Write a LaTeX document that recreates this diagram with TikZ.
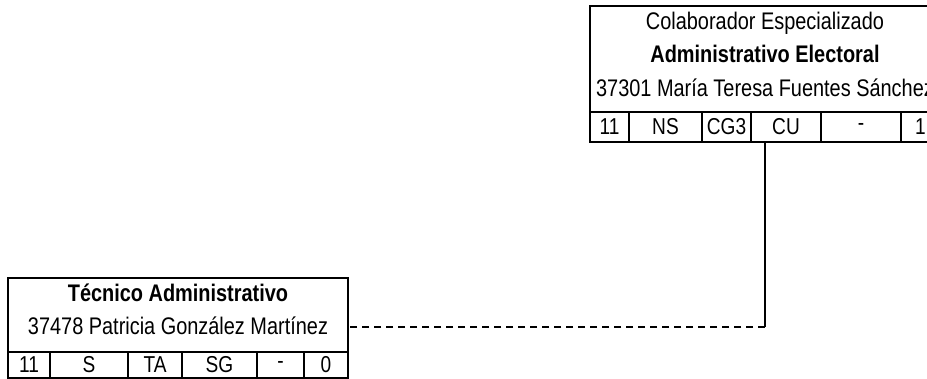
\documentclass[tikz,border=0pt]{standalone}
\usepackage{fontspec}
\setmainfont{Liberation Sans}[FakeStretch=0.83]
\usetikzlibrary{positioning}

\begin{document}
\begin{tikzpicture}[
  x=1pt, y=-1pt,
  font=\fontsize{24}{28}\selectfont,
  frame/.style={draw, line width=1.8pt, outer sep=0pt, inner sep=0pt, anchor=north west},
  cell/.style={draw, line width=1.8pt, outer sep=0pt, inner sep=0pt, font=\fontsize{23}{26}\selectfont},
  title/.style={anchor=base, inner sep=0pt},
  link/.style={line width=1.8pt}
]
\useasboundingbox (0,0) rectangle (927,379);
\clip (0,0) rectangle (927,379);

\node[frame, minimum width=350pt, minimum height=106pt] (hdrA) at (590,6) {};
\node[title] (roleA) at (765,30) {Colaborador Especializado};
\node[title] (postA) at (765,63) {\textbf{Administrativo Electoral}};
\node[title] (nameA) at (765,97) {37301 María Teresa Fuentes Sánchez};
\node[cell, minimum width=39pt, minimum height=30pt, anchor=north west] (a1) at (hdrA.south west) {11};
\node[cell, minimum width=73pt, minimum height=30pt, right=0pt of a1] (a2) {NS};
\node[cell, minimum width=49pt, minimum height=30pt, right=0pt of a2] (a3) {CG3};
\node[cell, minimum width=70pt, minimum height=30pt, right=0pt of a3] (a4) {CU};
\node[cell, minimum width=80pt, minimum height=30pt, right=0pt of a4] (a5) {-};
\node[cell, minimum width=39pt, minimum height=30pt, right=0pt of a5] (a6) {1};

\node[frame, minimum width=340pt, minimum height=74pt] (hdrB) at (8,278) {};
\node[title] (postB) at (178,302) {\textbf{Técnico Administrativo}};
\node[title] (nameB) at (178,335) {37478 Patricia González Martínez};
\node[cell, minimum width=42pt, minimum height=26pt, anchor=north west] (b1) at (hdrB.south west) {11};
\node[cell, minimum width=78pt, minimum height=26pt, right=0pt of b1] (b2) {S};
\node[cell, minimum width=54pt, minimum height=26pt, right=0pt of b2] (b3) {TA};
\node[cell, minimum width=75pt, minimum height=26pt, right=0pt of b3] (b4) {SG};
\node[cell, minimum width=47pt, minimum height=26pt, right=0pt of b4] (b5) {-};
\node[cell, minimum width=44pt, minimum height=26pt, right=0pt of b5] (b6) {0};

\coordinate (bend) at (765,327);
\draw[link] (hdrA.south |- a4.south) -- (bend);
\draw[link, dash pattern=on 7pt off 5pt] (bend) -- (hdrB.east |- bend);
\end{tikzpicture}
\end{document}
